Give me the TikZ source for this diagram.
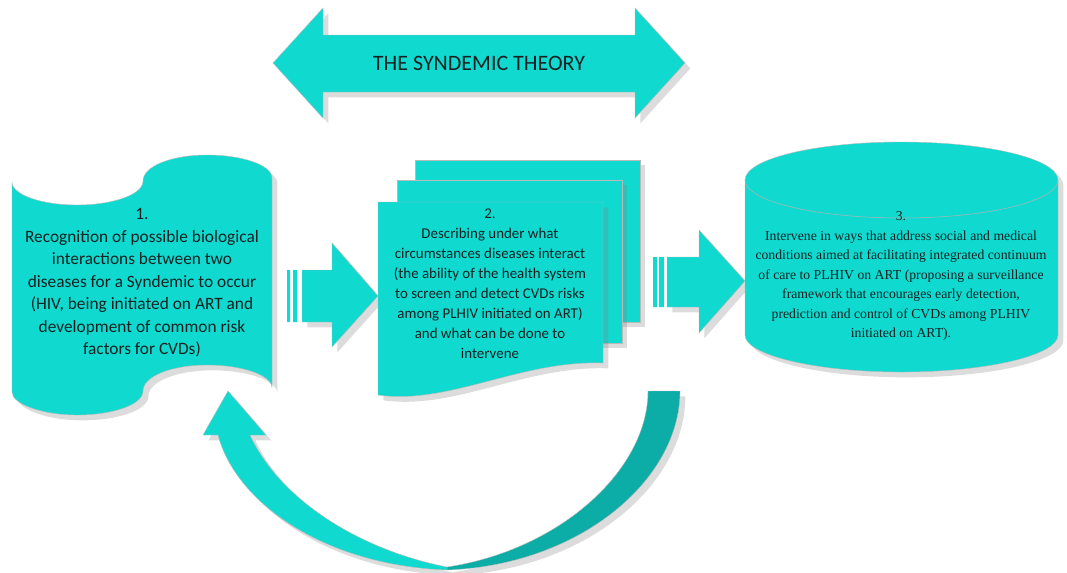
\documentclass[tikz,border=0pt]{standalone}
\usepackage{fontspec}
\setmainfont{Carlito}
\newfontfamily\serifbox{Liberation Serif}
\usetikzlibrary{shadows}
\definecolor{syncyan}{RGB}{16,218,208}
\definecolor{syndark}{RGB}{11,173,166}
\definecolor{syntext}{RGB}{22,32,32}
\begin{document}
\begin{tikzpicture}[x=0.75pt,y=-0.75pt,
    cyanfill/.style={fill=syncyan,draw=gray!55,line width=0.3pt,
        drop shadow={opacity=0.28,shadow xshift=4pt,shadow yshift=-4pt}},
    boxtext/.style={align=center,text=syntext,inner sep=0pt}]
    \useasboundingbox (0,0) rectangle (1067,572);
    \draw[cyanfill] (273,63) -- (323,8) -- (323,35) -- (635,35) -- (635,8) -- (685,63) -- (635,118) -- (635,92) -- (323,92) -- (323,118) -- cycle;
    \node[boxtext,font=\fontsize{16.5}{20}\selectfont] (title) at (479,63) {THE SYNDEMIC THEORY};
    \fill[syncyan] (287,270) rectangle (290,322) (293,270) rectangle (297,322);
    \draw[cyanfill] (302,270) -- (332,270) -- (332,243) -- (378,296) -- (332,347) -- (332,322) -- (302,322) -- cycle;
    \fill[syncyan] (653,257) rectangle (657,307) (659,257) rectangle (664,307);
    \draw[cyanfill] (667,257) -- (699,257) -- (699,230) -- (745,281) -- (699,333) -- (699,307) -- (667,307) -- cycle;
    \draw[cyanfill] (12,182) .. controls (12,195) and (42,205) .. (77,205) .. controls (112,205) and (143,195) .. (143,181)
        .. controls (143,166) and (172,155) .. (207,155) .. controls (242,155) and (272,165) .. (272,178) -- (272,388)
        .. controls (272,375) and (242,365) .. (207,365) .. controls (172,365) and (143,376) .. (143,391)
        .. controls (143,405) and (112,415) .. (77,415) .. controls (42,415) and (12,404) .. (12,392) -- cycle;
    \node[boxtext,font=\fontsize{13}{16.9}\selectfont] (recog) at (142,283) {1.\\Recognition of possible biological\\interactions between two\\diseases for a Syndemic to occur\\(HIV, being initiated on ART and\\development of common risk\\factors for CVDs)};
    \draw[cyanfill] (415,160) rectangle (640,322);
    \draw[cyanfill] (397,180) rectangle (622,343);
    \draw[cyanfill] (378,202) -- (603,202) -- (603,363) .. controls (520,360) and (450,405) .. (378,395) -- cycle;
    \node[boxtext,font=\fontsize{11.2}{15}\selectfont] (describe) at (490,284) {2.\\Describing under what\\circumstances diseases interact\\(the ability of the health system\\to screen and detect CVDs risks\\among PLHIV initiated on ART)\\and what can be done to\\intervene};
    \draw[cyanfill] (745,180) -- (745,335) .. controls (745,355) and (815,372) .. (901.5,372) .. controls (988,372) and (1058,355) .. (1058,335)
        -- (1058,180) .. controls (1058,159) and (988,142) .. (901.5,142) .. controls (815,142) and (745,159) .. (745,180) -- cycle;
    \draw[gray!60,line width=0.4pt] (745,180) .. controls (745,201) and (815,218) .. (901.5,218) .. controls (988,218) and (1058,201) .. (1058,180);
    \node[boxtext,font=\serifbox\fontsize{10.3}{14.6}\selectfont] (intervene) at (901,276) {3.\\Intervene in ways that address social and medical\\conditions aimed at facilitating integrated continuum\\of care to PLHIV on ART (proposing a surveillance\\framework that encourages early detection,\\prediction and control of CVDs among PLHIV\\initiated on ART).};
    \draw[cyanfill,fill=syndark] (447,570) .. controls (580,565) and (680,480) .. (680,391) -- (648,391) .. controls (648,470) and (560,550) .. (447,567) -- cycle;
    \draw[cyanfill] (218,435) .. controls (235,500) and (320,565) .. (447,570) -- (447,567) .. controls (360,550) and (280,500) .. (250,435)
        -- (266,435) -- (228,391) -- (203,435) -- cycle;
\end{tikzpicture}
\end{document}
